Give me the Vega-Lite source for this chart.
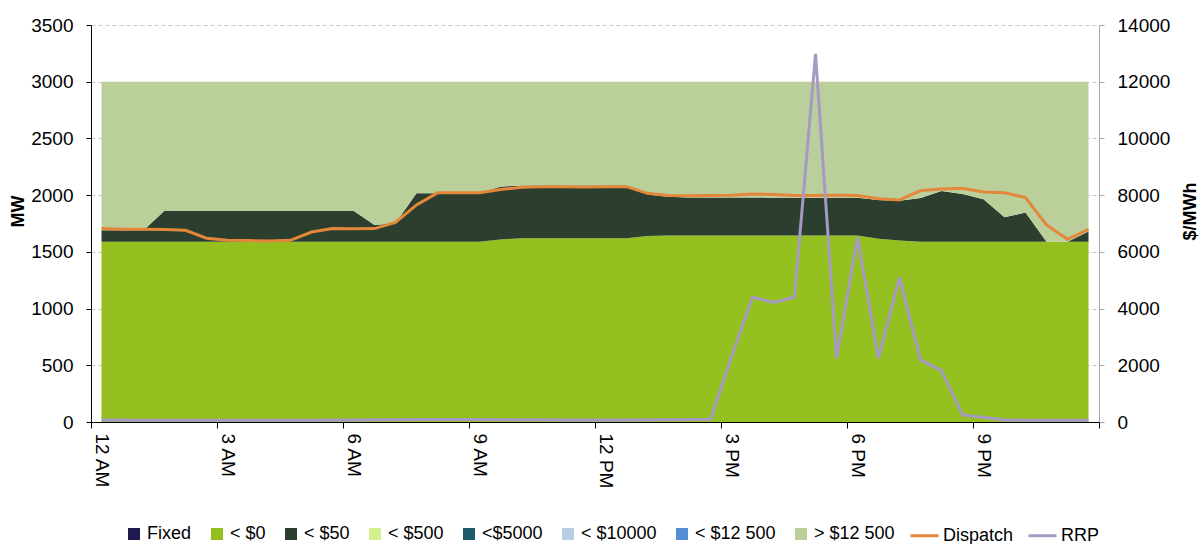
{
  "$schema": "https://vega.github.io/schema/vega-lite/v6.json",
  "width": 1008,
  "height": 397,
  "autosize": {"type": "none"},
  "padding": {"left": 91, "top": 25, "right": 104, "bottom": 122},
  "background": "white",
  "config": {
    "view": {"stroke": null},
    "font": "Liberation Sans",
    "axis": {"labelFont": "Liberation Sans", "labelFontSize": 19, "labelColor": "#000000", "titleFont": "Liberation Sans", "titleFontSize": 18, "titleFontWeight": "bold", "titleColor": "#000000"},
    "legend": {"labelFont": "Liberation Sans", "labelFontSize": 18, "labelColor": "#000000"}
  },
  "datasets": {
    "stack": [
      {"h":0,"s":"< $0","o":1,"v":1590},{"h":0,"s":"< $50","o":2,"v":100},{"h":0,"s":"> $12 500","o":3,"v":1310},
      {"h":0.5,"s":"< $0","o":1,"v":1590},{"h":0.5,"s":"< $50","o":2,"v":100},{"h":0.5,"s":"> $12 500","o":3,"v":1310},
      {"h":1,"s":"< $0","o":1,"v":1590},{"h":1,"s":"< $50","o":2,"v":100},{"h":1,"s":"> $12 500","o":3,"v":1310},
      {"h":1.5,"s":"< $0","o":1,"v":1590},{"h":1.5,"s":"< $50","o":2,"v":273},{"h":1.5,"s":"> $12 500","o":3,"v":1137},
      {"h":2,"s":"< $0","o":1,"v":1590},{"h":2,"s":"< $50","o":2,"v":273},{"h":2,"s":"> $12 500","o":3,"v":1137},
      {"h":2.5,"s":"< $0","o":1,"v":1590},{"h":2.5,"s":"< $50","o":2,"v":273},{"h":2.5,"s":"> $12 500","o":3,"v":1137},
      {"h":3,"s":"< $0","o":1,"v":1590},{"h":3,"s":"< $50","o":2,"v":273},{"h":3,"s":"> $12 500","o":3,"v":1137},
      {"h":3.5,"s":"< $0","o":1,"v":1590},{"h":3.5,"s":"< $50","o":2,"v":273},{"h":3.5,"s":"> $12 500","o":3,"v":1137},
      {"h":4,"s":"< $0","o":1,"v":1590},{"h":4,"s":"< $50","o":2,"v":273},{"h":4,"s":"> $12 500","o":3,"v":1137},
      {"h":4.5,"s":"< $0","o":1,"v":1590},{"h":4.5,"s":"< $50","o":2,"v":273},{"h":4.5,"s":"> $12 500","o":3,"v":1137},
      {"h":5,"s":"< $0","o":1,"v":1590},{"h":5,"s":"< $50","o":2,"v":273},{"h":5,"s":"> $12 500","o":3,"v":1137},
      {"h":5.5,"s":"< $0","o":1,"v":1590},{"h":5.5,"s":"< $50","o":2,"v":273},{"h":5.5,"s":"> $12 500","o":3,"v":1137},
      {"h":6,"s":"< $0","o":1,"v":1590},{"h":6,"s":"< $50","o":2,"v":273},{"h":6,"s":"> $12 500","o":3,"v":1137},
      {"h":6.5,"s":"< $0","o":1,"v":1590},{"h":6.5,"s":"< $50","o":2,"v":147},{"h":6.5,"s":"> $12 500","o":3,"v":1263},
      {"h":7,"s":"< $0","o":1,"v":1590},{"h":7,"s":"< $50","o":2,"v":162},{"h":7,"s":"> $12 500","o":3,"v":1248},
      {"h":7.5,"s":"< $0","o":1,"v":1590},{"h":7.5,"s":"< $50","o":2,"v":426},{"h":7.5,"s":"> $12 500","o":3,"v":984},
      {"h":8,"s":"< $0","o":1,"v":1590},{"h":8,"s":"< $50","o":2,"v":426},{"h":8,"s":"> $12 500","o":3,"v":984},
      {"h":8.5,"s":"< $0","o":1,"v":1590},{"h":8.5,"s":"< $50","o":2,"v":426},{"h":8.5,"s":"> $12 500","o":3,"v":984},
      {"h":9,"s":"< $0","o":1,"v":1590},{"h":9,"s":"< $50","o":2,"v":430},{"h":9,"s":"> $12 500","o":3,"v":980},
      {"h":9.5,"s":"< $0","o":1,"v":1610},{"h":9.5,"s":"< $50","o":2,"v":465},{"h":9.5,"s":"> $12 500","o":3,"v":925},
      {"h":10,"s":"< $0","o":1,"v":1620},{"h":10,"s":"< $50","o":2,"v":465},{"h":10,"s":"> $12 500","o":3,"v":915},
      {"h":10.5,"s":"< $0","o":1,"v":1620},{"h":10.5,"s":"< $50","o":2,"v":465},{"h":10.5,"s":"> $12 500","o":3,"v":915},
      {"h":11,"s":"< $0","o":1,"v":1620},{"h":11,"s":"< $50","o":2,"v":465},{"h":11,"s":"> $12 500","o":3,"v":915},
      {"h":11.5,"s":"< $0","o":1,"v":1620},{"h":11.5,"s":"< $50","o":2,"v":465},{"h":11.5,"s":"> $12 500","o":3,"v":915},
      {"h":12,"s":"< $0","o":1,"v":1620},{"h":12,"s":"< $50","o":2,"v":465},{"h":12,"s":"> $12 500","o":3,"v":915},
      {"h":12.5,"s":"< $0","o":1,"v":1620},{"h":12.5,"s":"< $50","o":2,"v":465},{"h":12.5,"s":"> $12 500","o":3,"v":915},
      {"h":13,"s":"< $0","o":1,"v":1640},{"h":13,"s":"< $50","o":2,"v":365},{"h":13,"s":"> $12 500","o":3,"v":995},
      {"h":13.5,"s":"< $0","o":1,"v":1645},{"h":13.5,"s":"< $50","o":2,"v":340},{"h":13.5,"s":"> $12 500","o":3,"v":1015},
      {"h":14,"s":"< $0","o":1,"v":1645},{"h":14,"s":"< $50","o":2,"v":335},{"h":14,"s":"> $12 500","o":3,"v":1020},
      {"h":14.5,"s":"< $0","o":1,"v":1645},{"h":14.5,"s":"< $50","o":2,"v":335},{"h":14.5,"s":"> $12 500","o":3,"v":1020},
      {"h":15,"s":"< $0","o":1,"v":1645},{"h":15,"s":"< $50","o":2,"v":335},{"h":15,"s":"> $12 500","o":3,"v":1020},
      {"h":15.5,"s":"< $0","o":1,"v":1645},{"h":15.5,"s":"< $50","o":2,"v":335},{"h":15.5,"s":"> $12 500","o":3,"v":1020},
      {"h":16,"s":"< $0","o":1,"v":1645},{"h":16,"s":"< $50","o":2,"v":333},{"h":16,"s":"> $12 500","o":3,"v":1022},
      {"h":16.5,"s":"< $0","o":1,"v":1645},{"h":16.5,"s":"< $50","o":2,"v":333},{"h":16.5,"s":"> $12 500","o":3,"v":1022},
      {"h":17,"s":"< $0","o":1,"v":1645},{"h":17,"s":"< $50","o":2,"v":333},{"h":17,"s":"> $12 500","o":3,"v":1022},
      {"h":17.5,"s":"< $0","o":1,"v":1645},{"h":17.5,"s":"< $50","o":2,"v":333},{"h":17.5,"s":"> $12 500","o":3,"v":1022},
      {"h":18,"s":"< $0","o":1,"v":1645},{"h":18,"s":"< $50","o":2,"v":333},{"h":18,"s":"> $12 500","o":3,"v":1022},
      {"h":18.5,"s":"< $0","o":1,"v":1615},{"h":18.5,"s":"< $50","o":2,"v":343},{"h":18.5,"s":"> $12 500","o":3,"v":1042},
      {"h":19,"s":"< $0","o":1,"v":1600},{"h":19,"s":"< $50","o":2,"v":350},{"h":19,"s":"> $12 500","o":3,"v":1050},
      {"h":19.5,"s":"< $0","o":1,"v":1590},{"h":19.5,"s":"< $50","o":2,"v":385},{"h":19.5,"s":"> $12 500","o":3,"v":1025},
      {"h":20,"s":"< $0","o":1,"v":1590},{"h":20,"s":"< $50","o":2,"v":447},{"h":20,"s":"> $12 500","o":3,"v":963},
      {"h":20.5,"s":"< $0","o":1,"v":1590},{"h":20.5,"s":"< $50","o":2,"v":421},{"h":20.5,"s":"> $12 500","o":3,"v":989},
      {"h":21,"s":"< $0","o":1,"v":1590},{"h":21,"s":"< $50","o":2,"v":373},{"h":21,"s":"> $12 500","o":3,"v":1037},
      {"h":21.5,"s":"< $0","o":1,"v":1590},{"h":21.5,"s":"< $50","o":2,"v":215},{"h":21.5,"s":"> $12 500","o":3,"v":1195},
      {"h":22,"s":"< $0","o":1,"v":1590},{"h":22,"s":"< $50","o":2,"v":256},{"h":22,"s":"> $12 500","o":3,"v":1154},
      {"h":22.5,"s":"< $0","o":1,"v":1590},{"h":22.5,"s":"< $50","o":2,"v":0},{"h":22.5,"s":"> $12 500","o":3,"v":1410},
      {"h":23,"s":"< $0","o":1,"v":1590},{"h":23,"s":"< $50","o":2,"v":0},{"h":23,"s":"> $12 500","o":3,"v":1410},
      {"h":23.5,"s":"< $0","o":1,"v":1590},{"h":23.5,"s":"< $50","o":2,"v":90},{"h":23.5,"s":"> $12 500","o":3,"v":1320}
    ],
    "lines": [
      {"h":0,"d":1705,"r":70},{"h":0.5,"d":1700,"r":68},{"h":1,"d":1700,"r":65},{"h":1.5,"d":1698,"r":62},
      {"h":2,"d":1690,"r":60},{"h":2.5,"d":1620,"r":58},{"h":3,"d":1602,"r":58},{"h":3.5,"d":1600,"r":60},
      {"h":4,"d":1596,"r":62},{"h":4.5,"d":1602,"r":60},{"h":5,"d":1675,"r":65},{"h":5.5,"d":1705,"r":70},
      {"h":6,"d":1703,"r":72},{"h":6.5,"d":1705,"r":75},{"h":7,"d":1760,"r":80},{"h":7.5,"d":1914,"r":85},
      {"h":8,"d":2020,"r":90},{"h":8.5,"d":2020,"r":88},{"h":9,"d":2022,"r":85},{"h":9.5,"d":2050,"r":80},
      {"h":10,"d":2070,"r":78},{"h":10.5,"d":2075,"r":75},{"h":11,"d":2075,"r":72},{"h":11.5,"d":2072,"r":70},
      {"h":12,"d":2075,"r":70},{"h":12.5,"d":2075,"r":72},{"h":13,"d":2016,"r":75},{"h":13.5,"d":1996,"r":80},
      {"h":14,"d":1995,"r":90},{"h":14.5,"d":1996,"r":100},{"h":15,"d":2000,"r":2300},{"h":15.5,"d":2011,"r":4400},
      {"h":16,"d":2005,"r":4220},{"h":16.5,"d":1996,"r":4400},{"h":17,"d":1996,"r":12980},{"h":17.5,"d":1998,"r":2250},
      {"h":18,"d":1996,"r":6510},{"h":18.5,"d":1969,"r":2250},{"h":19,"d":1958,"r":5100},{"h":19.5,"d":2040,"r":2190},
      {"h":20,"d":2055,"r":1810},{"h":20.5,"d":2061,"r":250},{"h":21,"d":2028,"r":165},{"h":21.5,"d":2022,"r":70},
      {"h":22,"d":1978,"r":65},{"h":22.5,"d":1737,"r":60},{"h":23,"d":1611,"r":58},{"h":23.5,"d":1699,"r":60}
    ]
  },
  "layer": [
    {
      "data": {"name": "stack"},
      "mark": {"type": "area", "interpolate": "linear"},
      "encoding": {
        "x": {
          "field": "h", "type": "quantitative",
          "scale": {"domain": [-0.25, 23.75], "nice": false, "zero": false},
          "axis": {
            "title": null, "zindex": 1,
            "values": [-0.25, 2.75, 5.75, 8.75, 11.75, 14.75, 17.75, 20.75, 23.75],
            "labelExpr": "datum.value < 0 ? '12 AM' : datum.value > 23 ? '' : datum.value < 11 ? (datum.value + 0.25) + ' AM' : datum.value < 12 ? '12 PM' : (datum.value - 11.75) + ' PM'",
            "labelOffset": 10.5, "labelAngle": 90, "labelAlign": "left", "labelBaseline": "middle",
            "labelPadding": 5, "labelOverlap": false, "labelFlush": false, "labelBound": false,
            "tickSize": 6, "tickColor": "#000000", "domainColor": "#000000", "grid": false
          }
        },
        "y": {
          "field": "v", "type": "quantitative", "stack": "zero",
          "scale": {"domain": [0, 3500], "nice": false},
          "axis": {
            "orient": "left", "format": "d",
            "values": [0, 500, 1000, 1500, 2000, 2500, 3000, 3500],
            "grid": true, "gridDash": [4, 3], "gridColor": "#C8C8C8",
            "tickSize": 5, "tickColor": "#000000", "domainColor": "#000000",
            "labelPadding": 13,
            "title": "MW", "titleAngle": 270, "titleX": -73, "titleY": 186, "titleAlign": "center", "titleBaseline": "middle"
          }
        },
        "color": {
          "field": "s", "type": "nominal",
          "scale": {
            "domain": ["Fixed", "< $0", "< $50", "< $500", "<$5000", "< $10000", "< $12 500", "> $12 500"],
            "range": ["#1F1A4F", "#93C01F", "#2C3F2E", "#D3EE8F", "#1F5C6B", "#B8CCE4", "#558ED5", "#BBCF9A"]
          },
          "legend": {
            "orient": "none", "legendX": 34, "legendY": 500, "direction": "horizontal", "columns": 8,
            "columnPadding": 16, "symbolType": "square", "symbolSize": 144, "symbolStrokeWidth": 0,
            "labelOffset": 4, "title": null, "padding": 0
          }
        },
        "order": {"field": "o", "type": "quantitative", "sort": "ascending"}
      }
    },
    {
      "data": {"name": "lines"},
      "layer": [
        {
          "mark": {"type": "line", "strokeWidth": 3},
          "encoding": {
            "x": {"field": "h", "type": "quantitative"},
            "y": {"field": "d", "type": "quantitative", "scale": {"domain": [0, 3500], "nice": false}, "axis": null},
            "color": {"datum": "Dispatch", "type": "nominal", "scale": {"domain": ["Dispatch", "RRP"], "range": ["#E4873A", "#A69AC4"]},
              "legend": {"orient": "none", "legendX": 818, "legendY": 495, "direction": "horizontal", "columns": 2,
                "columnPadding": 8, "symbolType": "stroke", "symbolSize": 784, "symbolStrokeWidth": 3,
                "labelOffset": 3, "title": null, "padding": 0}}
          }
        },
        {
          "mark": {"type": "line", "strokeWidth": 3},
          "encoding": {
            "x": {"field": "h", "type": "quantitative"},
            "y": {
              "field": "r", "type": "quantitative",
              "scale": {"domain": [0, 14000], "nice": false},
              "axis": {
                "orient": "right", "format": "d",
                "values": [0, 2000, 4000, 6000, 8000, 10000, 12000, 14000],
                "grid": false, "tickSize": 5, "tickColor": "#A6A6A6", "domainColor": "#A6A6A6",
                "labelPadding": 13,
                "title": "$/MWh", "titleAngle": 270, "titleX": 91, "titleY": 186, "titleAlign": "center", "titleBaseline": "middle"
              }
            },
            "color": {"datum": "RRP", "type": "nominal"}
          }
        }
      ],
      "resolve": {"scale": {"y": "independent"}}
    }
  ],
  "resolve": {"scale": {"y": "independent", "color": "independent"}}
}
